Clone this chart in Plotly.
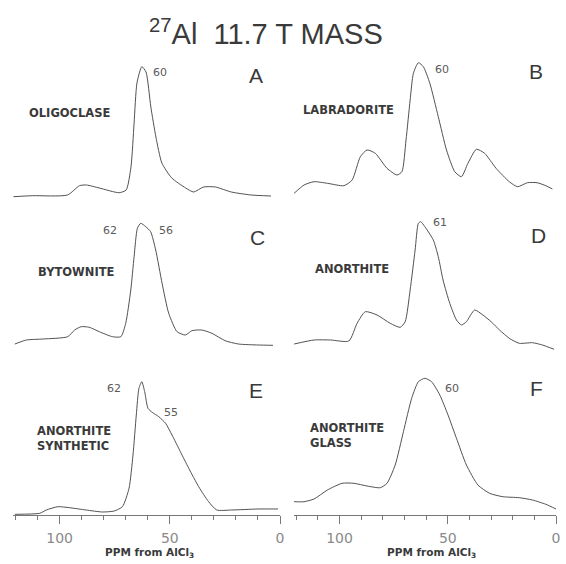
import plotly.graph_objects as go

# ---------------- data (ppm from AlCl3, intensity in arbitrary units) ----------------
ppm_A = [121, 112.2, 96.4, 91, 87.8, 82, 73, 69.8, 67.6, 66.2, 64.9, 62.7, 60.8, 58.6,
         56.3, 53.6, 49.1, 42.8, 39.2, 34.7, 29.3, 22.1, 13.1, 4.1]
int_A = [3.3, 4.3, 5, 14.3, 15, 12, 7.3, 10, 33.3, 77, 117, 133.3, 128, 93,
         63, 37, 22, 12, 8, 13, 13, 8, 5, 4]

ppm_B = [121.0, 116.4, 111.8, 105.6, 98.0, 94.2, 90.4, 87.3, 83.5, 78.1, 73.5, 71.2, 69.3,
         67.4, 65.9, 63.6, 61.3, 58.3, 54.4, 50.6, 46.8, 43.7, 40.7, 36.8, 33.0, 27.7,
         21.6, 17.8, 13.2, 8.8, 4.7, 1.7]
int_B = [6.7, 15, 18.3, 16.7, 14.3, 20, 43.3, 50, 46.7, 31.7, 25, 28.3, 60,
         100, 126.7, 137.3, 133.3, 116.7, 83.3, 50, 28.3, 23.3, 36.7, 50.7, 46.7, 31.7,
         18.3, 13.3, 17.3, 17.3, 14.3, 11]

ppm_C = [120.3, 115.0, 107.5, 96.3, 93.2, 90.2, 86.5, 82.0, 76.0, 72.2, 70.0, 67.7, 66.2,
         64.7, 63.2, 60.9, 58.7, 56.4, 53.5, 50.5, 46.7, 42.9, 40.0, 35.5, 30.9, 24.9,
         18.9, 9.9, 3.2]
int_C = [6, 10, 11, 13.3, 20, 23.3, 22.7, 18.3, 13.3, 13.3, 26.7, 60, 93.3,
         121.7, 126.7, 123.3, 118.3, 100, 66.7, 36.7, 18.3, 15, 19.3, 20, 16.7, 9.3,
         6, 5, 4.7]

ppm_D = [121.0, 111.8, 104.1, 95.7, 91.9, 88.1, 82.7, 76.6, 72.0, 69.7, 67.4, 65.1, 63.6,
         62.5, 60.6, 56.7, 54.4, 52.2, 49.1, 46.0, 43.7, 41.4, 37.6, 33.8, 30.0, 26.1,
         21.6, 17.0, 10.9, 6.3, 0.9]
int_D = [6, 10, 10, 9, 26.7, 38.3, 35, 26.7, 22.7, 28.3, 60, 100, 126.7,
         128.3, 123.3, 110, 93.3, 70, 46.7, 30, 25, 28.3, 40, 35, 28.3, 20,
         11.7, 6.7, 7.3, 5, 0.7]

ppm_E = [120.3, 109.0, 106.0, 100.8, 95.5, 88.0, 80.5, 75.2, 71.5, 68.5, 66.7, 65.2, 64.0,
         62.7, 61.4, 59.9, 58.0, 55.0, 51.9, 49.0, 45.2, 41.4, 36.9, 32.4, 28.7, 21.9,
         9.9, 0.9]
int_E = [0.7, 1.7, 5, 8.3, 7.3, 5, 3, 4, 8.3, 26.7, 60, 100, 126.7,
         133.3, 123.3, 106.7, 102.7, 98.3, 91.7, 80, 63.3, 46.7, 28.3, 13.3, 5, 5,
         6, 6]

ppm_F = [121.0, 116.4, 111.8, 105.6, 98.8, 93.4, 87.3, 81.2, 78.1, 74.3, 70.5, 66.7, 63.6,
         60.6, 57.5, 53.7, 49.9, 46.0, 41.4, 36.1, 30.7, 24.6, 17.0, 10.9, 4.7, 0]
int_F = [13.3, 13.3, 16, 25, 31.7, 31.7, 29, 27.3, 31.7, 50, 83.3, 116.7, 133.3,
         136.7, 133.3, 120, 100, 76.7, 50, 30, 21.7, 18.3, 17.3, 15, 10.7, 6]

panel_letters = ["A", "B", "C", "D", "E", "F"]
sample_names = ["OLIGOCLASE", "LABRADORITE", "BYTOWNITE", "ANORTHITE",
                "ANORTHITE<br>SYNTHETIC", "ANORTHITE<br>GLASS"]
peak_labels = [["60"], ["60"], ["62", "56"], ["61"], ["62", "55"], ["60"]]
tick_values = [100, 50, 0]
tick_text = ["100", "50", "0"]
x_title = "PPM from AlCl<sub>3</sub>"
title_text = "<sup>27</sup>Al&nbsp;&nbsp;11.7 T MASS"

series = [(ppm_A, int_A), (ppm_B, int_B), (ppm_C, int_C),
          (ppm_D, int_D), (ppm_E, int_E), (ppm_F, int_F)]

# ---------------- layout geometry (pixels) ----------------
W, H = 566, 564
def fx(px):
    return px / W
def fy(py):
    return 1 - py / H

col_px = [(13.4, 282.0), (296.2, 560.0)]
row_base = [200, 350, 515]
row_h = 150

fig = go.Figure()
layout = dict(
    width=W, height=H, margin=dict(l=0, r=0, t=0, b=0),
    paper_bgcolor="white", plot_bgcolor="rgba(0,0,0,0)",
    showlegend=False,
)

line_col = "#525252"
for i, (xs, ys) in enumerate(series):
    r, c = divmod(i, 2)
    n = i + 1
    xa = "x" if n == 1 else f"x{n}"
    ya = "y" if n == 1 else f"y{n}"
    fig.add_trace(go.Scatter(x=xs, y=ys, mode="lines", xaxis=xa, yaxis=ya,
                             line=dict(color=line_col, width=1.0, shape="spline",
                                       smoothing=0.6),
                             hoverinfo="skip"))
    x0, x1 = col_px[c]
    bottom = (r == 2)
    xdict = dict(domain=[fx(x0), fx(x1)], range=[121, 0], anchor=ya,
                 showgrid=False, zeroline=False, fixedrange=True)
    if bottom:
        xdict.update(showline=True, linecolor="#777", linewidth=1,
                     ticks="outside", ticklen=8, tickcolor="#777", tickwidth=1,
                     tickvals=tick_values, ticktext=tick_text,
                     ticklabelstandoff=2, ticklabeloverflow="allow",
                     tickfont=dict(family="DejaVu Sans", size=14, color="#8a8a8a"),
                     minor=dict(dtick=10, tick0=0, ticks="outside", ticklen=4,
                                tickcolor="#777", tickwidth=1))
    else:
        xdict.update(visible=False)
    ydict = dict(domain=[fy(row_base[r]), fy(row_base[r] - row_h)], range=[0, row_h],
                 anchor=xa, visible=False, showgrid=False, zeroline=False,
                 fixedrange=True)
    layout["xaxis" if n == 1 else f"xaxis{n}"] = xdict
    layout["yaxis" if n == 1 else f"yaxis{n}"] = ydict

fig.update_layout(**layout)

ann = []
def add_text(text, px, py, size, color="#333", bold=False, family="Liberation Sans",
             xanchor="center", align="center"):
    ann.append(dict(text=f"<b>{text}</b>" if bold else text, x=fx(px), y=fy(py),
                    xref="paper", yref="paper", showarrow=False,
                    xanchor=xanchor, yanchor="middle", align=align,
                    font=dict(family=family, size=size, color=color)))

# title
add_text(title_text, 268, 32, 29, color="#3a3a3a")

# panel letters
letter_pos = [(258, 75), (540, 72), (259, 237), (542, 235), (258, 390), (540, 388)]
for t, (px, py) in zip(panel_letters, letter_pos):
    add_text(t, px, py, 21, color="#3a3a3a")

# sample names
name_pos = [(71, 113, "center"), (351, 110, "center"), (77, 272, "center"),
            (355, 269, "center"), (35, 438, "left"), (310, 435, "left")]
for t, (px, py, anc) in zip(sample_names, name_pos):
    add_text(t, px, py, 11.5, color="#3a3a3a", bold=True, family="DejaVu Sans",
             xanchor=anc, align="left")

# peak labels
peak_pos = [[(161, 73)], [(445, 69)], [(111, 231), (167, 231)], [(443, 223)],
            [(115, 388), (172, 412)], [(455, 388)]]
for labs, poss in zip(peak_labels, peak_pos):
    for t, (px, py) in zip(labs, poss):
        add_text(t, px, py, 11, color="#5a5a5a", family="DejaVu Sans")

# axis titles
for px in (151, 435):
    add_text(x_title, px, 553, 10.5, color="#3a3a3a", bold=True, family="DejaVu Sans")

fig.update_layout(annotations=ann)
fig.write_html("out.html", config={"displayModeBar": False},
               post_script="document.body.style.margin='0';"
                           "document.body.style.overflow='hidden';")
